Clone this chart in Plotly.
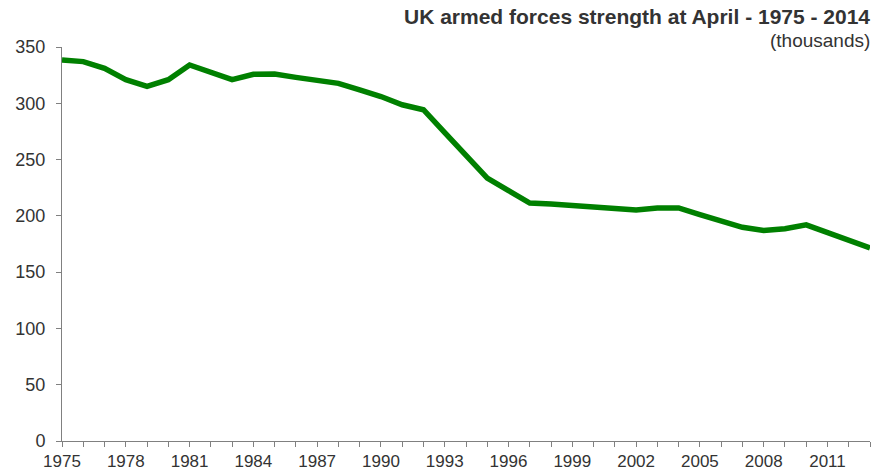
import plotly.graph_objects as go

years = list(range(1975, 2014))
strength = [338.5, 337, 331, 321, 315, 321, 334, 328, 321, 325.7, 326, 323, 320.3, 317.7,
            312, 306, 298.7, 294.3, 274, 254, 233.6, 222.5, 211.4, 210.5, 209.3, 208, 206,
            205.2, 207, 207, 201, 195, 189.8, 187, 188.6, 192, 185.6, 179, 171.5]
x_tick_years = list(range(1975, 2014))
x_tick_text = [str(y) if (y - 1975) % 3 == 0 else "" for y in x_tick_years]
y_ticks = [0, 50, 100, 150, 200, 250, 300, 350]

fig = go.Figure()
fig.add_trace(go.Scatter(x=years, y=strength, mode="lines",
                         line=dict(color="#008000", width=5.5), showlegend=False,
                         hoverinfo="skip"))

font = "Liberation Sans, Arial, sans-serif"
fig.update_layout(
    width=881, height=476,
    margin=dict(l=62, r=11, t=47, b=35, autoexpand=False),
    paper_bgcolor="white", plot_bgcolor="white",
    font=dict(family=font, size=16, color="#333333"),
    xaxis=dict(range=[1975, 2013], tickvals=x_tick_years, ticktext=x_tick_text,
               ticks="outside", ticklen=5, tickcolor="#808080", showgrid=False,
               showline=True, linecolor="#808080", linewidth=1, zeroline=False,
               automargin=False, tickfont=dict(size=17, color="#333333")),
    yaxis=dict(range=[0, 350], tickvals=y_ticks, ticks="outside", ticklen=5,
               tickcolor="#808080", showgrid=False, showline=True, linecolor="#808080",
               linewidth=1, zeroline=False, automargin=False, ticklabelstandoff=7,
               tickfont=dict(size=18, color="#333333")),
    annotations=[
        dict(text="<b>UK armed forces strength at April - 1975 - 2014</b>", xref="paper", yref="paper",
             x=1, y=1, xanchor="right", yanchor="middle", yshift=31, showarrow=False,
             xshift=2, font=dict(size=21, color="#333333")),
        dict(text="(thousands)", xref="paper", yref="paper",
             x=1, y=1, xanchor="right", yanchor="middle", yshift=7, showarrow=False,
             xshift=2, font=dict(size=19, color="#333333")),
    ],
)
fig.write_html("out.html", post_script="document.body.style.margin='0';",
               config={"displayModeBar": False})
